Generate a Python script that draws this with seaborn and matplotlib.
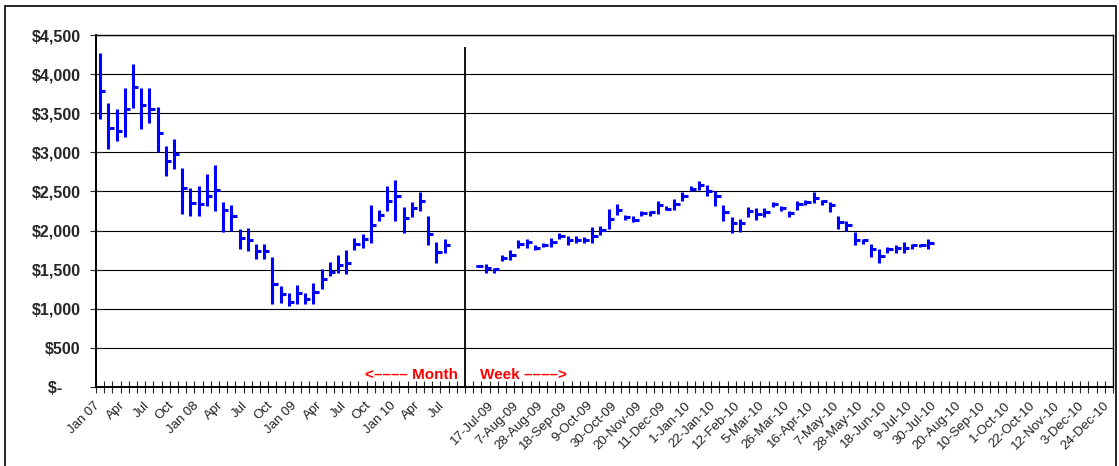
import numpy as np
import matplotlib
matplotlib.use("Agg")
import matplotlib.pyplot as plt
import matplotlib.transforms as mtransforms
import seaborn as sns
from matplotlib.patches import Rectangle
from matplotlib.ticker import FixedLocator

# monthly bars, Jan 07 .. Jul 10
month_high = [4264, 3627, 3550, 3818, 4127, 3818, 3818, 3584, 3087, 3168, 2799, 2544,
              2564, 2722, 2832, 2369, 2331, 2022, 2034, 1831, 1822, 1660, 1290, 1197,
              1299, 1197, 1325, 1512, 1596, 1682, 1749, 1907, 1962, 2331, 2268, 2573,
              2641, 2297, 2366, 2488, 2182, 1851, 1898]
month_low = [3427, 3041, 3150, 3194, 3571, 3295, 3380, 3010, 2692, 2790, 2213, 2182,
             2182, 2310, 2246, 1980, 1990, 1758, 1736, 1631, 1631, 1057, 1070, 1036,
             1066, 1066, 1066, 1248, 1418, 1461, 1448, 1749, 1780, 1843, 2119, 2255,
             2119, 1971, 2175, 2255, 1809, 1588, 1716]
month_close = [3787, 3308, 3278, 3558, 3830, 3605, 3550, 3245, 2883, 2977, 2544, 2353,
               2340, 2446, 2513, 2259, 2182, 1907, 1873, 1745, 1736, 1312, 1185, 1092,
               1197, 1121, 1214, 1385, 1474, 1554, 1580, 1834, 1894, 2076, 2204, 2382,
               2437, 2162, 2289, 2373, 1962, 1728, 1813]

# weekly bars, 3-Jul-09 .. 23-Jul-10
week_high = [1560, 1567, 1525, 1685, 1749, 1873, 1898, 1809, 1843, 1907, 1970, 1936,
             1928, 1915, 2047, 2064, 2276, 2340, 2204, 2182, 2255, 2255, 2382, 2310,
             2403, 2492, 2573, 2637, 2586, 2501, 2331, 2174, 2149, 2297, 2289, 2289,
             2366, 2318, 2246, 2382, 2395, 2492, 2395, 2361, 2182, 2119, 1979, 1898,
             1822, 1758, 1792, 1809, 1851, 1834, 1830, 1898]
week_low = [1530, 1461, 1452, 1609, 1618, 1779, 1779, 1749, 1792, 1792, 1894, 1809,
            1843, 1843, 1843, 1949, 2025, 2195, 2131, 2110, 2191, 2191, 2216, 2259,
            2267, 2374, 2501, 2522, 2437, 2310, 2119, 1971, 1983, 2174, 2140, 2174,
            2297, 2246, 2174, 2267, 2323, 2352, 2323, 2238, 2025, 2000, 1809, 1822,
            1665, 1580, 1707, 1716, 1716, 1758, 1787, 1767]
week_close = [1545, 1516, 1503, 1643, 1685, 1834, 1851, 1779, 1818, 1851, 1936, 1885,
              1885, 1873, 1936, 2013, 2149, 2259, 2174, 2140, 2225, 2233, 2331, 2280,
              2340, 2437, 2535, 2586, 2501, 2446, 2233, 2098, 2098, 2246, 2216, 2238,
              2340, 2284, 2225, 2344, 2366, 2416, 2373, 2331, 2106, 2068, 1885, 1877,
              1758, 1673, 1758, 1779, 1779, 1809, 1813, 1843]

month_labels = ["Jan 07", "Apr", "Jul", "Oct", "Jan 08", "Apr", "Jul", "Oct",
                "Jan 09", "Apr", "Jul", "Oct", "Jan 10", "Apr", "Jul"]
week_labels = ["17-Jul-09", "7-Aug-09", "28-Aug-09", "18-Sep-09", "9-Oct-09",
               "30-Oct-09", "20-Nov-09", "11-Dec-09", "1-Jan-10", "22-Jan-10",
               "12-Feb-10", "5-Mar-10", "26-Mar-10", "16-Apr-10", "7-May-10",
               "28-May-10", "18-Jun-10", "9-Jul-10", "30-Jul-10", "20-Aug-10",
               "10-Sep-10", "1-Oct-10", "22-Oct-10", "12-Nov-10", "3-Dec-10",
               "24-Dec-10"]

y_ticks = [0, 500, 1000, 1500, 2000, 2500, 3000, 3500, 4000, 4500]
y_labels = ["$-    ", "$500", "$1,000", "$1,500", "$2,000", "$2,500",
            "$3,000", "$3,500", "$4,000", "$4,500"]

N_MONTHS = 45   # Jan 07 .. Sep 10 slots
N_WEEKS = 78    # 3-Jul-09 .. 24-Dec-10 slots
N_CATS = N_MONTHS + 1 + N_WEEKS

sns.set_style("white")
plt.rcParams["font.family"] = ["Liberation Sans", "DejaVu Sans"]

fig = plt.figure(figsize=(11.19, 4.66), dpi=100)
ax = fig.add_axes([96 / 1119, 1 - 387 / 466, 1017 / 1119, 352 / 466])

blue = "#0000FF"
mx = np.arange(len(month_high))
wx = N_MONTHS + 1 + np.arange(len(week_high))
xs = np.concatenate([mx, wx])
highs = month_high + week_high
lows = month_low + week_low
closes = month_close + week_close

ax.vlines(xs, lows, highs, color=blue, lw=2.2, capstyle="butt", zorder=3)
ax.hlines(closes, xs, xs + 0.65, color=blue, lw=2.2, capstyle="butt", zorder=3)

# divider between the month and week sections
ax.vlines(N_MONTHS - 0.5, 0, 4350, color="black", lw=1.3, zorder=2)

ax.set_xlim(-0.5, N_CATS - 0.5)
ax.set_ylim(0, 4500)

ax.set_yticks(y_ticks)
ax.set_yticklabels(y_labels, fontsize=11.5, fontweight="bold")
ax.yaxis.grid(True, color="black", lw=0.8)
ax.tick_params(axis="y", direction="inout", length=8, width=0.8, pad=7, left=True)

tick_pos = list(range(0, 3 * len(month_labels), 3)) + \
    list(range(N_MONTHS + 3, N_MONTHS + 3 + 3 * len(week_labels), 3))
ax.set_xticks(tick_pos)
ax.set_xticklabels(month_labels + week_labels, rotation=45, ha="right",
                   rotation_mode="anchor", fontsize=9.5, color="#222222")
ax.tick_params(axis="x", which="major", length=0, pad=9)
shift = mtransforms.ScaledTranslation(-6 / 100, 0, fig.dpi_scale_trans)
for lab in ax.get_xticklabels():
    lab.set_transform(lab.get_transform() + shift)
ax.xaxis.set_minor_locator(FixedLocator(np.arange(-0.5, N_CATS, 1.0)))
ax.tick_params(axis="x", which="minor", direction="inout", length=8,
               width=0.8, bottom=True)

for side in ["left", "bottom", "right", "top"]:
    ax.spines[side].set_color("black")
    ax.spines[side].set_linewidth(1.0)
ax.spines["left"].set_linewidth(1.4)
ax.spines["bottom"].set_linewidth(1.4)

ax.text(N_MONTHS - 1.4, 70, "<\u2013\u2013\u2013\u2013 Month", color="red",
        fontsize=11, fontweight="bold", ha="right", va="bottom")
ax.text(N_MONTHS + 1.3, 70, "Week \u2013\u2013\u2013\u2013>", color="red",
        fontsize=11, fontweight="bold", ha="left", va="bottom")

fig.patches.append(Rectangle((5 / 1119, -0.02), 1111 / 1119, 1.02 - 6 / 466,
                             transform=fig.transFigure, fill=False,
                             edgecolor="black", lw=1.2))

fig.savefig("out.png", dpi=100)
